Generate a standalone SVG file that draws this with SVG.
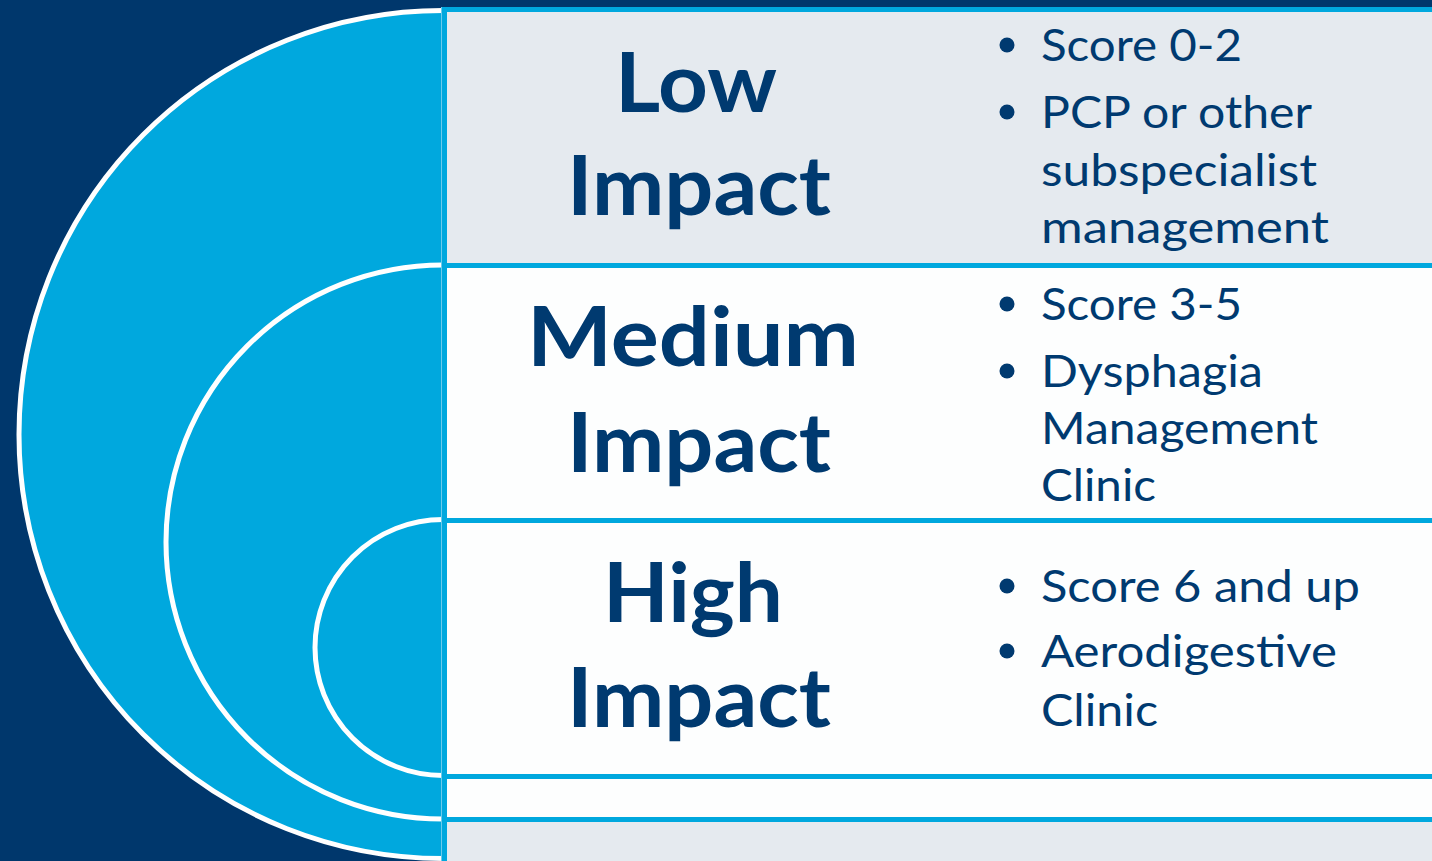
<svg xmlns="http://www.w3.org/2000/svg" width="1432" height="861" viewBox="0 0 1432 861">
  <style>
    .bg { fill: #00376C; }
    .arc { fill: #00A8DE; stroke: #FFFFFF; stroke-width: 5; }
    .row { stroke: #00A8DE; stroke-width: 5; }
    .gray { fill: #E5EAEF; }
    .white { fill: #FDFEFE; }
    .title { font-family: Lato, "Open Sans", sans-serif; font-weight: 700; font-size: 82px; fill: #003A70; text-anchor: middle; }
    .item { font-family: Lato, "Open Sans", sans-serif; font-weight: 400; font-size: 45px; fill: #003A70; }
    .dot { fill: #003A70; }
  </style>

  <!-- navy backdrop -->
  <rect class="bg" x="0" y="0" width="1432" height="861"/>

  <!-- nested half-circles -->
  <g id="arcs">
    <circle class="arc" cx="443" cy="434.5" r="424"/>
    <circle class="arc" cx="443" cy="542" r="277"/>
    <circle class="arc" cx="443" cy="647.5" r="128"/>
  </g>

  <!-- table panel -->
  <g id="panel">
    <rect class="row gray" x="444.5" y="9.5" width="995" height="256"/>
    <rect class="row white" x="444.5" y="265.5" width="995" height="255"/>
    <rect class="row white" x="444.5" y="520.5" width="995" height="256"/>
    <rect class="row white" x="444.5" y="776.5" width="995" height="43"/>
    <rect class="row gray" x="444.5" y="819.5" width="995" height="50"/>
    <line x1="441.5" y1="7" x2="441.5" y2="861" stroke="#6CCBEC" stroke-width="1"/>
  </g>

  <g id="low">
    <text class="title" x="696" y="112" textLength="162" lengthAdjust="spacingAndGlyphs">Low</text>
    <text class="title" x="699" y="215" textLength="264" lengthAdjust="spacingAndGlyphs">Impact</text>
    <circle class="dot" cx="1007" cy="45" r="7.5"/>
    <text class="item" x="1041" y="61" textLength="201" lengthAdjust="spacingAndGlyphs">Score 0-2</text>
    <circle class="dot" cx="1007" cy="112" r="7.5"/>
    <text class="item" x="1041" y="128" textLength="271" lengthAdjust="spacingAndGlyphs">PCP or other</text>
    <text class="item" x="1041" y="186" textLength="276" lengthAdjust="spacingAndGlyphs">subspecialist</text>
    <text class="item" x="1041" y="243" textLength="288" lengthAdjust="spacingAndGlyphs">management</text>
  </g>

  <g id="medium">
    <text class="title" x="693" y="366" textLength="332" lengthAdjust="spacingAndGlyphs">Medium</text>
    <text class="title" x="699" y="472" textLength="264" lengthAdjust="spacingAndGlyphs">Impact</text>
    <circle class="dot" cx="1007" cy="304" r="7.5"/>
    <text class="item" x="1041" y="320" textLength="201" lengthAdjust="spacingAndGlyphs">Score 3-5</text>
    <circle class="dot" cx="1007" cy="371" r="7.5"/>
    <text class="item" x="1041" y="387" textLength="222" lengthAdjust="spacingAndGlyphs">Dysphagia</text>
    <text class="item" x="1041" y="444" textLength="277" lengthAdjust="spacingAndGlyphs">Management</text>
    <text class="item" x="1041" y="501" textLength="115" lengthAdjust="spacingAndGlyphs">Clinic</text>
  </g>

  <g id="high">
    <text class="title" x="693" y="622" textLength="180" lengthAdjust="spacingAndGlyphs">High</text>
    <text class="title" x="699" y="727" textLength="264" lengthAdjust="spacingAndGlyphs">Impact</text>
    <circle class="dot" cx="1007" cy="586" r="7.5"/>
    <text class="item" x="1041" y="602" textLength="319" lengthAdjust="spacingAndGlyphs">Score 6 and up</text>
    <circle class="dot" cx="1007" cy="651" r="7.5"/>
    <text class="item" x="1041" y="667" textLength="296" lengthAdjust="spacingAndGlyphs">Aerodigestive</text>
    <text class="item" x="1041" y="726" textLength="117" lengthAdjust="spacingAndGlyphs">Clinic</text>
  </g>
</svg>
